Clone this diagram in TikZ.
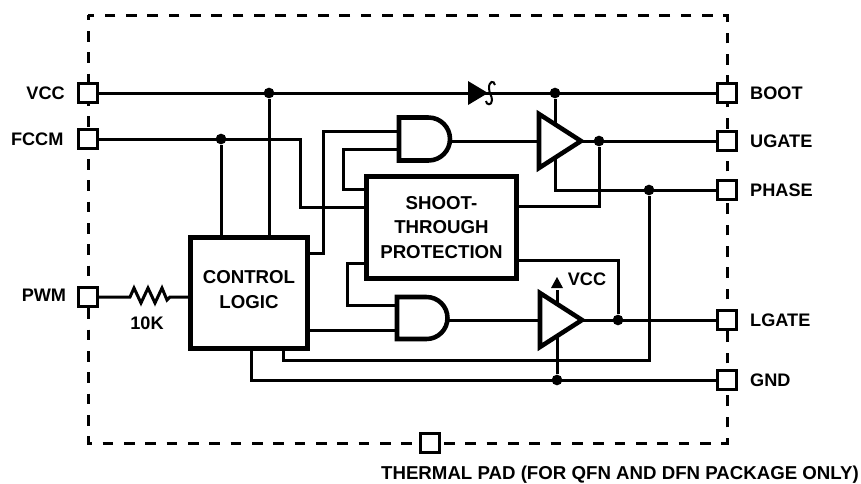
\documentclass[tikz,border=0pt]{standalone}
\usepackage{fontspec}
\setmainfont{Liberation Sans}
\usetikzlibrary{positioning}

\begin{document}
\begin{tikzpicture}[x=0.75pt, y=-0.75pt,
		wire/.style={line width=2.25pt},
		heavy/.style={line width=3.4pt, fill=white},
		tag/.style={font=\bfseries\fontsize{13.6}{18.5}\selectfont, inner sep=0pt},
		pinbox/.style={draw, line width=2.25pt, fill=white, minimum size=14.2pt, inner sep=0pt},
		block/.style={draw, line width=3.75pt, fill=white, inner sep=0pt, align=center,
			font=\bfseries\fontsize{14}{18.5}\selectfont},
		dot/.style={circle, fill=black, minimum size=8pt, inner sep=0pt}]
		\useasboundingbox (0, 0) rectangle (861, 483);
		\draw[wire, dash pattern=on 8pt off 8pt, dash phase=4pt] (88, 15) rectangle (727, 443);
		
		% pins
		\foreach \name/\x/\y in {vcc/88/93, fccm/88/139, pwm/88/297, boot/727/93, ugate/727/141,
			phase/727/190, lgate/727/320, gnd/727/380, pad/430/443}
			\node[pinbox] (\name) at (\x, \y) {};
		\node[tag, left=9pt of vcc] (vcclabel) {VCC};
		\node[tag, left=10pt of fccm] (fccmlabel) {FCCM};
		\node[tag, left=8pt of pwm, yshift=1.5pt] (pwmlabel) {PWM};
		\foreach \name/\txt in {boot/BOOT, ugate/UGATE, phase/PHASE, lgate/LGATE, gnd/GND}
			\node[tag, right=9pt of \name] (\name label) {\txt};
		\node[tag, font=\bfseries\fontsize{14}{18.5}\selectfont] (padlabel) at (620, 475)
			{THERMAL PAD (FOR QFN AND DFN PACKAGE ONLY)};
		\node[tag] (rlabel) at (147, 323) {10K};
		\node[tag] (vddlabel) at (587, 279) {VCC};
		
		% blocks
		\node[block, minimum width=87.75pt, minimum height=83.25pt] (control) at (249, 292.5)
			{CONTROL\\LOGIC\rule[-4.5pt]{0pt}{0pt}};
		\node[block, minimum width=112.5pt, minimum height=76.5pt] (shoot) at (441.5, 227.5)
			{SHOOT-\\THROUGH\\PROTECTION};
		
		% gate ends and junctions
		\coordinate (andtop) at (450, 141);
		\coordinate (andlow) at (448, 320);
		\coordinate (buftop) at (581, 141);
		\coordinate (buflow) at (582, 320);
		\coordinate (andtopa) at (399, 131);
		\coordinate (andtopb) at (399, 149);
		\coordinate (andlowa) at (397, 305);
		\coordinate (andlowb) at (397, 330);
		\coordinate (rleft) at (130, 297);
		\coordinate (rright) at (170, 297);
		\node[dot] (jvcc) at (269, 93) {};
		\node[dot] (jfccm) at (221, 139) {};
		\node[dot] (jboot) at (555, 93) {};
		\node[dot] (jugate) at (599, 141) {};
		\node[dot] (jphase) at (649, 190) {};
		\node[dot] (jlgate) at (618, 320) {};
		\node[dot] (jgnd) at (557, 380) {};
		
		% wires
		\draw[wire] (vcc) -- (boot);
		\draw[wire] (jvcc) -- (jvcc |- control.north);
		\draw[wire] (fccm) -- (300, 139) -- (300, 207) -- (shoot.west |- 300, 207);
		\draw[wire] (jfccm) -- (jfccm |- control.north);
		\draw[wire] (control.east |- 0, 253) -- (323, 253) -- (323, 131) -- (andtopa);
		\draw[wire] (andtopb) -- (343, 149) -- (343, 189) -- (shoot.west |- 343, 189);
		\draw[wire] (shoot.east |- 0, 206) -| (jugate);
		\draw[wire] (shoot.east |- 0, 260) -| (jlgate);
		\draw[wire] (shoot.west |- 0, 263) -- (347, 263) -- (347, 305) -- (andlowa);
		\draw[wire] (control.east |- andlowb) -- (andlowb);
		\draw[wire] (andtop) -- (buftop);
		\draw[wire] (andlow) -- (buflow);
		\draw[wire] (buftop) -- (ugate);
		\draw[wire] (buflow) -- (lgate);
		\draw[wire] (jboot) -- (555, 190) -- (phase);
		\draw[wire] (jphase) -- (649, 360) -- (283, 360) -- (283, 350);
		\draw[wire] (251, 350) -- (251, 380) -- (gnd);
		\draw[wire] (jgnd) -- (557, 290);
		\draw[wire] (pwm) -- (rleft) -- (134, 288) -- (141, 303) -- (148, 288) -- (155, 303)
			-- (162, 288) -- (167, 300) -- (rright) -- (control.west |- rright);
		
		% gates and the diode
		\foreach \g/\h in {andtop/21.5, andlow/21}
			\draw[heavy] (\g) ++(-21.5, -\h-2) -- ++(-29.5, 0) -- ++(0, 2*\h)
				-- ++(29.5, 0) arc[start angle=90, end angle=-90, radius=\h] -- cycle;
		\foreach \b in {buftop, buflow}
			\draw[heavy] (\b) -- ++(-42, -27) -- ++(0, 54) -- cycle;
		\fill (468, 81) -- (488, 93) -- (468, 105) -- cycle;
		\draw[line width=1.5pt] (495, 85) .. controls (494, 80) and (489, 81) .. (489, 88)
			.. controls (489, 93) and (492, 96) .. (492, 100)
			.. controls (492, 106) and (486, 105) .. (486, 101);
		\fill (557, 277) -- (551, 288) -- (563, 288) -- cycle;
\end{tikzpicture}
\end{document}
